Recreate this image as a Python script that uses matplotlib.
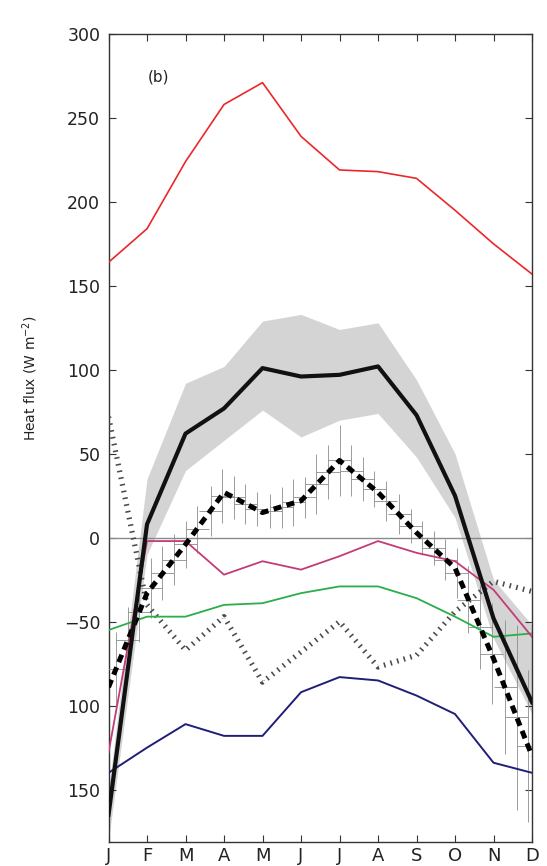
import matplotlib
matplotlib.use("Agg")
import matplotlib.pyplot as plt
import numpy as np

plt.rcParams['font.family'] = ['DejaVu Sans']

months = ['J', 'F', 'M', 'A', 'M', 'J', 'J', 'A', 'S', 'O', 'N', 'D']

red_flux = [164, 184, 224, 258, 271, 239, 219, 218, 214, 195, 175, 157]
mean_flux = [-165, 8, 62, 77, 101, 96, 97, 102, 73, 25, -48, -98]
band_upper = [-150, 35, 92, 102, 129, 133, 124, 128, 94, 50, -25, -52]
band_lower = [-180, -10, 40, 58, 76, 60, 70, 74, 48, 12, -60, -105]
dashed_flux = [-89, -33, -4, 27, 15, 22, 46, 27, 3, -18, -72, -130]
dotted_flux = [72, -40, -67, -47, -86, -68, -50, -77, -70, -44, -26, -32]
magenta_flux = [-128, -2, -2, -22, -14, -19, -11, -2, -9, -14, -31, -59]
green_flux = [-55, -47, -47, -40, -39, -33, -29, -29, -36, -47, -59, -57]
blue_flux = [-140, -125, -111, -118, -118, -92, -83, -85, -94, -105, -134, -140]

err_t = [0.2, 0.5, 0.8, 1.1, 1.4, 1.7, 2.0, 2.3, 2.65, 2.95, 3.25, 3.55,
         3.85, 4.2, 4.5, 4.8, 5.1, 5.4, 5.7, 6.0, 6.3, 6.6, 6.9, 7.2,
         7.55, 7.85, 8.15, 8.45, 8.75, 9.05, 9.35, 9.65, 9.95, 10.3, 10.6, 10.9]
err_mid = [-78, -61, -44, -30, -21, -13, -4, 5, 16, 25, 24, 20,
           17, 16, 18, 21, 24, 32, 39, 46, 40, 35, 29, 22,
           14, 7, 0, -6, -13, -21, -37, -53, -69, -89, -107, -124]
err_half = [22, 20, 18, 18, 16, 15, 14, 14, 15, 16, 13, 12,
            10, 10, 12, 14, 12, 18, 16, 21, 15, 13, 11, 12,
            12, 10, 10, 10, 12, 15, 20, 25, 30, 40, 55, 45]
err_xhalf = 0.3

ytick_vals = [300, 250, 200, 150, 100, 50, 0, -50, -100, -150]
ytick_labels = ['300', '250', '200', '150', '100', '50', '0', '\u221250', '100', '150']

x = np.arange(len(months))

fig = plt.figure(figsize=(5.47, 8.66), dpi=100)
ax = fig.add_axes([0.1984, 0.0281, 0.7742, 0.9327])

ax.fill_between(x, band_lower, band_upper, color='#d4d4d4', lw=0, zorder=1)
ax.axhline(0, color='#8a8a8a', lw=1.0, zorder=2)

ax.errorbar(err_t, err_mid, yerr=err_half, xerr=err_xhalf, fmt='none',
            ecolor='#8c8c8c', elinewidth=0.6, capsize=0, zorder=3)

ax.plot(x, red_flux, color='#e8282b', lw=1.2, zorder=5)
ax.plot(x, blue_flux, color='#1f1f78', lw=1.4, zorder=5)
ax.plot(x, green_flux, color='#2aae4a', lw=1.3, zorder=5)
ax.plot(x, magenta_flux, color='#c23c78', lw=1.3, zorder=5)
ax.plot(x, dotted_flux, color='#4a4a4a', lw=3.8, dashes=(0.3, 1.0),
        dash_capstyle='butt', zorder=4)
ax.plot(x, dashed_flux, color='black', lw=3.6, dashes=(1.6, 1.1),
        dash_capstyle='butt', zorder=6)
ax.plot(x, mean_flux, color='#111111', lw=3.0, zorder=7)

ax.set_xlim(0, 11)
ax.set_ylim(-181, 300)
ax.set_xticks(x)
ax.set_xticklabels(months, fontsize=13)
ax.set_yticks(ytick_vals)
ax.set_yticklabels(ytick_labels, fontsize=12.5)
ax.tick_params(direction='in', top=True, right=True, length=5, width=0.8,
               colors='#333333', labelcolor='#222222')
ax.tick_params(axis='x', pad=4)
ax.tick_params(axis='y', pad=6)
for s in ax.spines.values():
    s.set_linewidth(1.0)
    s.set_color('#333333')

ax.text(0.093, 0.947, '(b)', transform=ax.transAxes, fontsize=11,
        ha='left', va='center', color='#222222')
fig.text(0.055, 0.5635, 'Heat flux (W m$^{-2}$)', rotation=90, fontsize=10,
         ha='center', va='center', color='#222222')

fig.savefig('out.png', dpi=100)
